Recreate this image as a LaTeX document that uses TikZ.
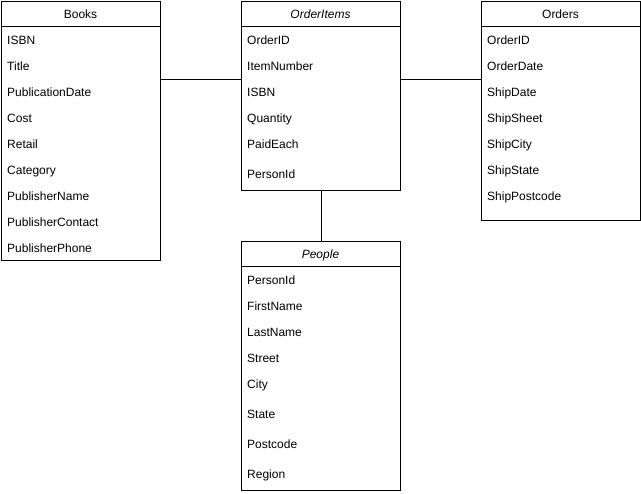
\documentclass[tikz,border=0pt]{standalone}
\usepackage{fontspec}
\setmainfont{Liberation Sans}
\begin{document}
\begin{tikzpicture}[x=1pt,y=-1pt,
  tbl/.style={draw=black,line width=1pt,anchor=north west,inner sep=0pt,minimum width=159pt},
  hdr/.style={font=\fontsize{12}{14}\selectfont,anchor=base,inner sep=0pt},
  fld/.style={font=\fontsize{12}{14}\selectfont,anchor=base west,inner sep=0pt},
  conn/.style={draw=black,line width=1pt}]
\useasboundingbox (0,0) rectangle (641,494);
% Books
\node[tbl,minimum height=259pt] (books) at (1,1) {};
\draw[line width=1pt] (1,27) -- (160,27);
\node[hdr] (bh) at (80.5,18.3) {Books};
\foreach \t/\y [count=\i] in {ISBN/40,Title/66,PublicationDate/92,Cost/118,Retail/144,Category/170,PublisherName/196,PublisherContact/222,PublisherPhone/248}
  \node[fld] (b\i) at (7,\y+4.3) {\t};
% OrderItems
\node[tbl,minimum height=189pt] (oi) at (241,1) {};
\draw[line width=1pt] (241,27) -- (400,27);
\node[hdr] (oih) at (320.5,18.3) {\itshape OrderItems};
\foreach \t/\y [count=\i] in {OrderID/40,ItemNumber/66,ISBN/92,Quantity/118,PaidEach/144,PersonId/174}
  \node[fld] (oi\i) at (247,\y+4.3) {\t};
% Orders
\node[tbl,minimum height=219pt] (ord) at (481,1) {};
\draw[line width=1pt] (481,27) -- (640,27);
\node[hdr] (ordh) at (560.5,18.3) {Orders};
\foreach \t/\y [count=\i] in {OrderID/40,OrderDate/66,ShipDate/92,ShipSheet/118,ShipCity/144,ShipState/170,ShipPostcode/196}
  \node[fld] (o\i) at (487,\y+4.3) {\t};
% People
\node[tbl,minimum height=249pt] (ppl) at (241,241) {};
\draw[line width=1pt] (241,267) -- (400,267);
\node[hdr] (pplh) at (320.5,258.3) {\itshape People};
\foreach \t/\y [count=\i] in {PersonId/280,FirstName/306,LastName/332,Street/358,City/384,State/414,Postcode/444,Region/474}
  \node[fld] (p\i) at (247,\y+4.3) {\t};
% connectors
\coordinate (cy) at (0,80);
\draw[conn] (books.east |- cy) -- (oi.west |- cy);
\draw[conn] (oi.east |- cy) -- (ord.west |- cy);
\draw[conn] (oi.south) -- (ppl.north);
\end{tikzpicture}
\end{document}
